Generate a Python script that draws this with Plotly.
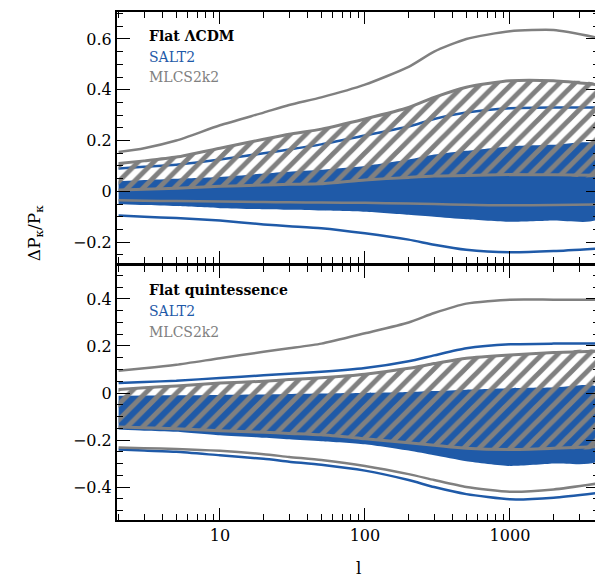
import plotly.graph_objects as go

# multipole values
ELL = [2, 3, 5, 10, 20, 30, 50, 100, 200, 300, 500, 1000, 2000, 4000]

# ---- Top panel: Flat LCDM ----
top_mlcs_2s_up = [0.155, 0.17, 0.20, 0.26, 0.31, 0.34, 0.37, 0.42, 0.49, 0.55, 0.60, 0.63, 0.635, 0.605]
top_mlcs_1s_up = [0.11, 0.12, 0.135, 0.17, 0.205, 0.225, 0.245, 0.285, 0.33, 0.37, 0.41, 0.435, 0.435, 0.42]
top_mlcs_1s_lo = [0.005, 0.008, 0.012, 0.02, 0.025, 0.028, 0.03, 0.045, 0.055, 0.06, 0.062, 0.066, 0.065, 0.063]
top_mlcs_2s_lo = [-0.035, -0.037, -0.038, -0.04, -0.042, -0.043, -0.044, -0.045, -0.048, -0.05, -0.053, -0.055, -0.054, -0.052]
top_salt_2s_up = [0.09, 0.097, 0.105, 0.125, 0.15, 0.165, 0.185, 0.22, 0.255, 0.285, 0.31, 0.327, 0.33, 0.33]
top_salt_1s_up = [0.04, 0.045, 0.05, 0.057, 0.07, 0.077, 0.085, 0.1, 0.125, 0.145, 0.16, 0.177, 0.183, 0.185]
top_salt_1s_lo = [-0.05, -0.054, -0.058, -0.066, -0.07, -0.072, -0.075, -0.08, -0.092, -0.1, -0.11, -0.12, -0.115, -0.11]
top_salt_2s_lo = [-0.095, -0.1, -0.105, -0.115, -0.13, -0.137, -0.145, -0.165, -0.19, -0.21, -0.23, -0.24, -0.235, -0.225]

# ---- Bottom panel: Flat quintessence ----
bot_mlcs_2s_up = [0.095, 0.105, 0.12, 0.148, 0.175, 0.19, 0.21, 0.254, 0.30, 0.34, 0.38, 0.397, 0.397, 0.397]
bot_salt_2s_up = [0.042, 0.047, 0.052, 0.064, 0.075, 0.082, 0.09, 0.106, 0.135, 0.16, 0.19, 0.207, 0.21, 0.21]
bot_mlcs_1s_up = [0.015, 0.022, 0.03, 0.042, 0.05, 0.057, 0.065, 0.08, 0.105, 0.125, 0.148, 0.162, 0.172, 0.178]
bot_salt_1s_up = [-0.012, -0.011, -0.01, -0.008, -0.006, -0.004, -0.002, 0.0, 0.004, 0.008, 0.014, 0.02, 0.023, 0.025]
bot_mlcs_1s_lo = [-0.145, -0.148, -0.152, -0.16, -0.167, -0.172, -0.178, -0.195, -0.212, -0.222, -0.235, -0.24, -0.235, -0.228]
bot_salt_1s_lo = [-0.155, -0.16, -0.165, -0.18, -0.19, -0.197, -0.205, -0.218, -0.245, -0.265, -0.29, -0.31, -0.30, -0.29]
bot_mlcs_2s_lo = [-0.232, -0.235, -0.238, -0.246, -0.26, -0.272, -0.285, -0.31, -0.345, -0.37, -0.40, -0.42, -0.41, -0.385]
bot_salt_2s_lo = [-0.24, -0.245, -0.25, -0.265, -0.28, -0.292, -0.305, -0.33, -0.37, -0.40, -0.43, -0.452, -0.445, -0.425]

TOP_TICKS = [-0.2, 0, 0.2, 0.4, 0.6]
TOP_LABELS = ["\u22120.2", "0", "0.2", "0.4", "0.6"]
BOT_TICKS = [-0.4, -0.2, 0, 0.2, 0.4]
BOT_LABELS = ["\u22120.4", "\u22120.2", "0", "0.2", "0.4"]
X_TICKS = [10, 100, 1000]
X_LABELS = ["10", "100", "1000"]

BLUE = "#1f5aa8"
GRAY = "#808080"

fig = go.Figure()


def band(xa, ya, up, lo, fill_kw):
    xs = list(ELL) + list(ELL)[::-1]
    ys = list(up) + list(lo)[::-1]
    fig.add_trace(go.Scatter(x=xs, y=ys, xaxis=xa, yaxis=ya, mode="lines",
                             fill="toself", hoverinfo="skip", showlegend=False,
                             line=dict(width=0, shape="spline", smoothing=0.6),
                             **fill_kw))


def line(xa, ya, vals, color, width=2.5):
    fig.add_trace(go.Scatter(x=ELL, y=vals, xaxis=xa, yaxis=ya, mode="lines",
                             line=dict(color=color, width=width, shape="spline", smoothing=0.6),
                             hoverinfo="skip", showlegend=False))


def panel(xa, ya, s1u, s1l, s2u, s2l, m1u, m1l, m2u, m2l):
    band(xa, ya, s1u, s1l, dict(fillcolor=BLUE))
    line(xa, ya, s2u, BLUE)
    line(xa, ya, s2l, BLUE)
    band(xa, ya, m1u, m1l, dict(fillcolor="rgba(0,0,0,0)",
                                fillpattern=dict(shape="/", fgcolor=GRAY, bgcolor="rgba(0,0,0,0)",
                                                 size=11, solidity=0.45, fillmode="replace")))
    line(xa, ya, m1u, GRAY, 3)
    line(xa, ya, m1l, GRAY, 3)
    line(xa, ya, m2u, GRAY)
    line(xa, ya, m2l, GRAY)


panel("x", "y", top_salt_1s_up, top_salt_1s_lo, top_salt_2s_up, top_salt_2s_lo,
      top_mlcs_1s_up, top_mlcs_1s_lo, top_mlcs_2s_up, top_mlcs_2s_lo)
panel("x2", "y2", bot_salt_1s_up, bot_salt_1s_lo, bot_salt_2s_up, bot_salt_2s_lo,
      bot_mlcs_1s_up, bot_mlcs_1s_lo, bot_mlcs_2s_up, bot_mlcs_2s_lo)

FONT = "DejaVu Serif"
xcommon = dict(type="log", range=[0.29, 3.614], showline=True, linecolor="black", linewidth=2,
               mirror="allticks", ticks="inside", ticklen=12, tickwidth=1, tickcolor="black",
               tickvals=X_TICKS, ticktext=X_LABELS, showgrid=False, zeroline=False,
               minor=dict(ticks="inside", ticklen=6, tickcolor="black", dtick="D1", showgrid=False),
               tickfont=dict(family=FONT, size=16, color="black"))
ycommon = dict(showline=True, linecolor="black", linewidth=2, mirror="allticks",
               ticks="inside", ticklen=13, tickwidth=1, tickcolor="black", showgrid=False,
               zeroline=False, minor=dict(ticks="inside", ticklen=6, tickcolor="black", dtick=0.05,
                                          showgrid=False),
               tickfont=dict(family=FONT, size=16, color="black"))

# page has an 8px body margin; plot area target: x 117..599, y 10..520 (window px)
fig.update_layout(
    width=595, height=571,
    margin=dict(l=109, r=4, t=2, b=59),
    paper_bgcolor="white", plot_bgcolor="white",
    xaxis=dict(xcommon, anchor="y", showticklabels=False),
    yaxis=dict(ycommon, domain=[258 / 510, 1], range=[-0.282, 0.706],
               tickvals=TOP_TICKS, ticktext=TOP_LABELS),
    xaxis2=dict(xcommon, anchor="y2", matches="x"),
    yaxis2=dict(ycommon, domain=[0, 255 / 510], range=[-0.54, 0.54],
                tickvals=BOT_TICKS, ticktext=BOT_LABELS),
)

LEG_X = (147 - 117) / 482


def py(p):
    return (520 - p) / 510


ann = [
    ("<b>Flat \u039bCDM</b>", 34, "black"),
    ("SALT2", 55, BLUE),
    ("MLCS2k2", 75, GRAY),
    ("<b>Flat quintessence</b>", 289, "black"),
    ("SALT2", 310, BLUE),
    ("MLCS2k2", 331, GRAY),
]
for text, yy, col in ann:
    fig.add_annotation(text=text, xref="paper", yref="paper", x=LEG_X, y=py(yy),
                       xanchor="left", yanchor="middle", showarrow=False,
                       font=dict(family=FONT, size=14, color=col))

fig.add_annotation(text="\u0394P<sub>\u03ba</sub>/P<sub>\u03ba</sub>", xref="paper", yref="paper",
                   x=(35 - 117) / 482, y=py(232), textangle=-90, showarrow=False,
                   xanchor="center", yanchor="middle",
                   font=dict(family=FONT, size=17, color="black"))
fig.add_annotation(text="l", xref="paper", yref="paper", x=(358 - 117) / 482, y=py(568),
                   showarrow=False, xanchor="center", yanchor="middle",
                   font=dict(family=FONT, size=17, color="black"))

fig.write_html("out.html")
